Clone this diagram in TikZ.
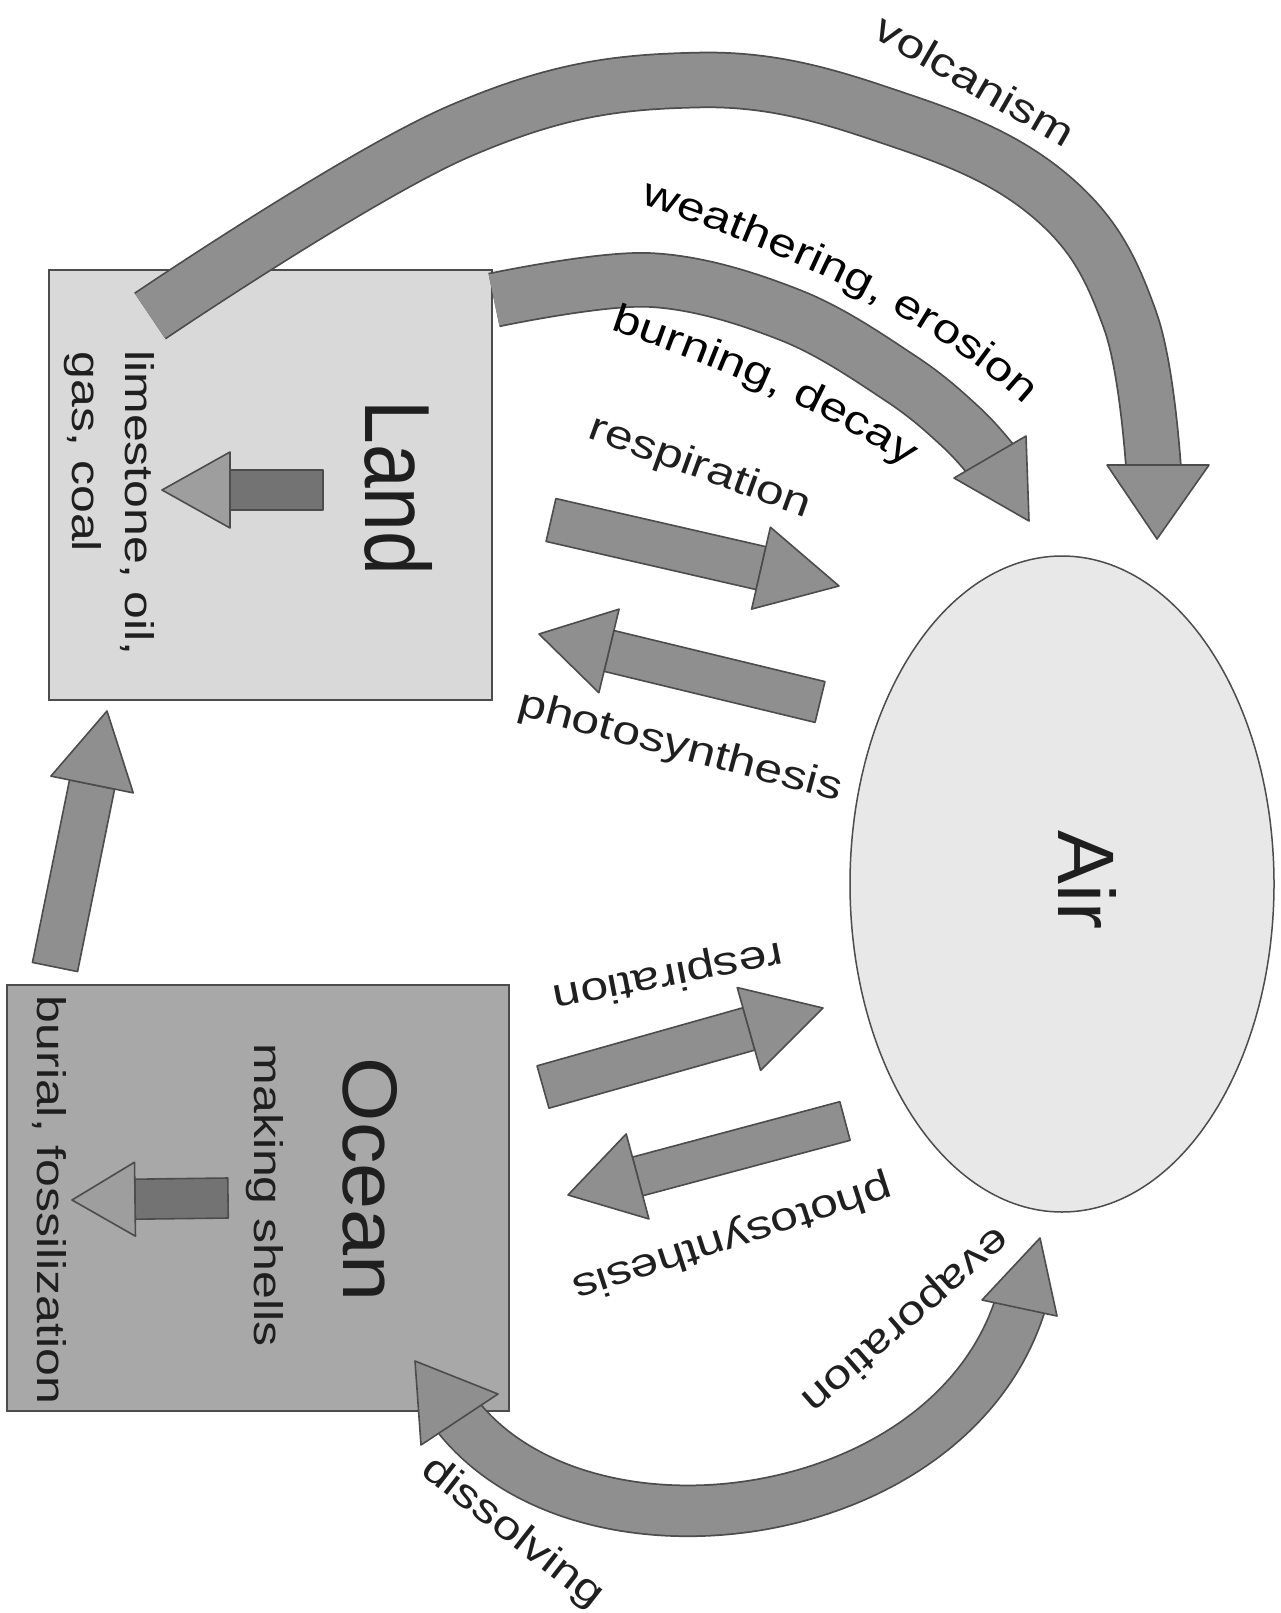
\documentclass[tikz,border=0pt]{standalone}
\usepackage{fontspec}
\setmainfont{Liberation Sans}
\newfontfamily\labfont[FakeStretch=1.25]{Liberation Sans}
\usetikzlibrary{calc,decorations.text,shapes.geometric}
\definecolor{landfill}{gray}{0.85}
\definecolor{oceanfill}{gray}{0.66}
\definecolor{airfill}{gray}{0.91}
\definecolor{bandfill}{gray}{0.56}
\definecolor{edge}{gray}{0.30}
\definecolor{shaftfill}{gray}{0.45}
\definecolor{headfill}{gray}{0.62}
\definecolor{ink}{gray}{0.12}
\newcommand\lab{\labfont\fontsize{40}{44}\selectfont}
% name, tail, tip, half shaft, half head, head length, shaft fill, head fill
\newcommand\fatarrow[8]{%
  \coordinate (#1-t) at #2;
  \coordinate (#1-h) at #3;
  \coordinate (#1-b) at ($(#1-h)!#6!(#1-t)$);
  \filldraw[fill=#7, draw=edge, line width=1.6pt, line join=round]
    ($(#1-t)!#4!90:(#1-h)$) -- ($(#1-b)!#4!90:(#1-h)$) --
    ($(#1-b)!#4!-90:(#1-h)$) -- ($(#1-t)!#4!-90:(#1-h)$) -- cycle;
  \filldraw[fill=#8, draw=edge, line width=1.6pt, line join=round]
    ($(#1-b)!#5!90:(#1-h)$) -- (#1-h) -- ($(#1-b)!#5!-90:(#1-h)$) -- cycle;
}
\begin{document}
\begin{tikzpicture}[x=1pt,y=-1pt,
  box/.style={draw=edge, line width=2pt, inner sep=0pt},
  lbl/.style={font=\lab, text=ink, inner sep=0pt},
  ttl/.style={text=ink, inner sep=0pt},
  fatband/.style n args={2}{draw=bandfill, line width=#1, line join=round, preaction={draw=edge, line width=#2, line join=round}},
  fathead/.style={fill=bandfill, draw=edge, line width=1.6pt, line join=round}]

\fill[white] (0,0) rectangle (1280,1613);
\useasboundingbox (0,0) rectangle (1280,1613);

% containers
\node[box, fill=landfill, minimum width=443pt, minimum height=430pt] (land) at (270.5,485) {};
\node[box, fill=oceanfill, minimum width=502pt, minimum height=426pt] (ocean) at (258,1198) {};
\node[ellipse, draw=edge, line width=1.5pt, fill=airfill, inner sep=0pt,
      minimum width=424pt, minimum height=656pt] (air) at (1062,884) {};

% volcanism
\coordinate (v0) at (150,316);
\coordinate (v1) at (460,131);
\coordinate (v2) at (700,80);
\coordinate (v3) at (905,122);
\coordinate (v4) at (1055,200);
\coordinate (v5) at (1130,320);
\coordinate (v6) at (1154,475);
\draw[fatband={53pt}{56.5pt}] plot[smooth, tension=0.65] coordinates {(v0) (v1) (v2) (v3) (v4) (v5) (v6)};
\coordinate (vh1) at (1107,465);
\coordinate (vh2) at (1209,465);
\coordinate (vtip) at (1157,539);
\filldraw[fathead] (vh1) -- (vtip) -- (vh2) -- cycle;

% weathering, erosion
\coordinate (w0) at (494,300);
\coordinate (w1) at (650,280);
\coordinate (w2) at (790,315);
\coordinate (w3) at (900,378);
\coordinate (w4) at (962,428);
\coordinate (w5) at (996,466);
\draw[fatband={52pt}{55.5pt}] plot[smooth, tension=0.6] coordinates {(w0) (w1) (w2) (w3) (w4) (w5)};
\coordinate (wh1) at (954,478);
\coordinate (wh2) at (1026,436);
\coordinate (wtip) at (1029,521);
\filldraw[fathead] (wh1) -- (wtip) -- (wh2) -- cycle;

% evaporation / dissolving
\coordinate (e0) at (455,1413);
\coordinate (e1) at (581,1579);
\coordinate (e2) at (955,1529);
\coordinate (e3) at (1022,1299);
\draw[fatband={49pt}{52.5pt}] (e0) .. controls (e1) and (e2) .. (e3);
\coordinate (dh1) at (498,1394);
\coordinate (dh2) at (421,1445);
\coordinate (dtip) at (415,1361);
\filldraw[fathead] (dh1) -- (dtip) -- (dh2) -- cycle;
\coordinate (eh1) at (982,1300);
\coordinate (eh2) at (1057,1316);
\coordinate (etip) at (1040,1238);
\filldraw[fathead] (eh1) -- (etip) -- (eh2) -- cycle;

% straight arrows
\fatarrow{lr}{(551,520)}{(839,586)}{22pt}{42pt}{80pt}{bandfill}{bandfill}
\fatarrow{lp}{(820,702)}{(539,634)}{21pt}{43pt}{72pt}{bandfill}{bandfill}
\fatarrow{or}{(543,1087)}{(823,1008)}{22pt}{43pt}{77pt}{bandfill}{bandfill}
\fatarrow{op}{(845,1121)}{(568,1195)}{20pt}{44pt}{72pt}{bandfill}{bandfill}
\fatarrow{ol}{(55,967)}{(107,711)}{23pt}{42pt}{75pt}{bandfill}{bandfill}
\fatarrow{li}{(323,490)}{(162,490)}{20pt}{38pt}{68pt}{shaftfill}{headfill}
\fatarrow{oi}{(228,1198)}{(72,1200)}{20pt}{37pt}{63pt}{shaftfill}{headfill}

% titles
\node[ttl, rotate=-90] (landt) at (398.5,488) {\resizebox{175pt}{67pt}{Land}};
\node[ttl, rotate=-90] (oceant) at (370,1180) {\resizebox{244pt}{54pt}{Ocean}};
\node[ttl, rotate=-90] (airt) at (1087,880) {\resizebox{99pt}{58pt}{Air}};

% box texts
\node[lbl, rotate=-90, anchor=base] (lim) at (125,503) {limestone, oil,};
\node[lbl, rotate=-90, anchor=base] (gas) at (72,452) {gas, coal};
\node[lbl, rotate=-90, anchor=base] (shell) at (254,1195) {making shells};
\node[lbl, rotate=-90, anchor=base] (burial) at (37,1200) {burial, fossilization};

% curved labels
\coordinate (wb0) at (620,197);
\coordinate (wb1) at (763,243);
\coordinate (wb2) at (934,314);
\coordinate (wb3) at (1040,420);
\path[decorate, decoration={text along path, text align=center, text={|\lab|weathering, erosion}}] (wb0) .. controls (wb1) and (wb2) .. (wb3);
\coordinate (bb0) at (598,326);
\coordinate (bb1) at (703,360);
\coordinate (bb2) at (828,411);
\coordinate (bb3) at (918,474);
\path[decorate, decoration={text along path, text align=center, text={|\lab|burning, decay}}] (bb0) .. controls (bb1) and (bb2) .. (bb3);

% straight labels
\node[lbl, rotate=-30] (volc) at (975,80) {volcanism};
\node[lbl, rotate=-20] (resL) at (700,468) {respiration};
\node[lbl, rotate=-15] (phoL) at (680,748) {photosynthesis};
\node[lbl, rotate=191] (resO) at (668,975) {respiration};
\node[lbl, rotate=198] (phoO) at (732,1237) {photosynthesis};
\node[lbl, rotate=221] (evap) at (905,1319) {evaporation};
\node[lbl, rotate=-38] (diss) at (512,1533) {dissolving};
\end{tikzpicture}
\end{document}
